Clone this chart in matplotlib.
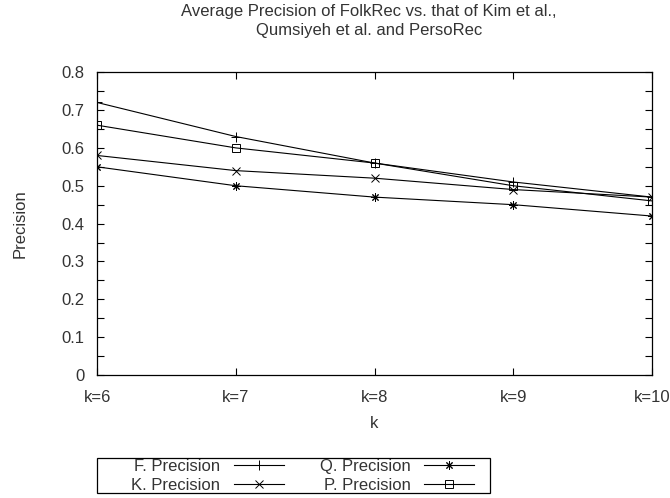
import matplotlib
matplotlib.use("Agg")
import matplotlib.pyplot as plt
from matplotlib.patches import Rectangle

plt.rcParams['font.family'] = ['Liberation Sans', 'DejaVu Sans']

k_labels = ["k=6", "k=7", "k=8", "k=9", "k=10"]
f_prec = [0.72, 0.63, 0.56, 0.51, 0.47]
k_prec = [0.58, 0.54, 0.52, 0.49, 0.47]
q_prec = [0.55, 0.50, 0.47, 0.45, 0.42]
p_prec = [0.66, 0.60, 0.56, 0.50, 0.46]

txt = '#333333'
fs = 12
x = range(len(k_labels))

fig = plt.figure(figsize=(6.7, 4.98), dpi=100)
ax = fig.add_axes([0.145, 0.247, 0.828, 0.608])

lw = 0.8
ax.plot(x, f_prec, color='black', lw=lw, marker='+', ms=7, mew=0.7, label='F. Precision')
ax.plot(x, k_prec, color='black', lw=lw, marker='x', ms=5.5, mew=0.7, label='K. Precision')
ax.plot(x, q_prec, color='black', lw=lw, marker=(8, 2, 0), ms=6, mew=0.7, label='Q. Precision')
ax.plot(x, p_prec, color='black', lw=lw, marker='s', ms=5.5, mew=0.7, mfc='none', label='P. Precision')

ax.set_xlim(0, len(k_labels) - 1)
ax.set_ylim(0, 0.8)
ax.set_xticks(list(x))
ax.set_xticklabels(k_labels)
ax.set_yticks([i / 20 for i in range(17)])
ax.set_yticklabels(["0" if i == 0 else ("%.1f" % (i / 20) if i % 2 == 0 else "") for i in range(17)])
ax.tick_params(direction='in', length=5, width=0.8, top=True, right=True,
               labelsize=fs, colors='black', labelcolor=txt)
ax.tick_params(axis='y', pad=9)
ax.tick_params(axis='x', pad=11)
for s in ax.spines.values():
    s.set_linewidth(0.9)

ax.set_xlabel('k', fontsize=fs, color=txt)
ax.xaxis.set_label_coords(0.5, -0.135)
ax.set_ylabel('Precision', fontsize=fs, color=txt)
ax.yaxis.set_label_coords(-0.125, 0.5)
ax.set_title('Average Precision of FolkRec vs. that of Kim et al.,\nQumsiyeh et al. and PersoRec',
             fontsize=fs, color=txt, pad=27, linespacing=1.35, x=0.49)

leg = fig.legend(ncol=2, markerfirst=False, loc='center',
                 bbox_to_anchor=(0.452, 0.045), frameon=False,
                 fontsize=fs, handlelength=3, borderpad=0, labelspacing=0.25,
                 handletextpad=0.8, columnspacing=2.2)
for t in leg.get_texts():
    t.set_color(txt)

# legend box as drawn by gnuplot
fig.patches.append(Rectangle((0.1448, 0.010), 0.5866, 0.0703, transform=fig.transFigure,
                             fill=False, edgecolor='black', lw=0.9))

fig.savefig('out.png', dpi=100)
